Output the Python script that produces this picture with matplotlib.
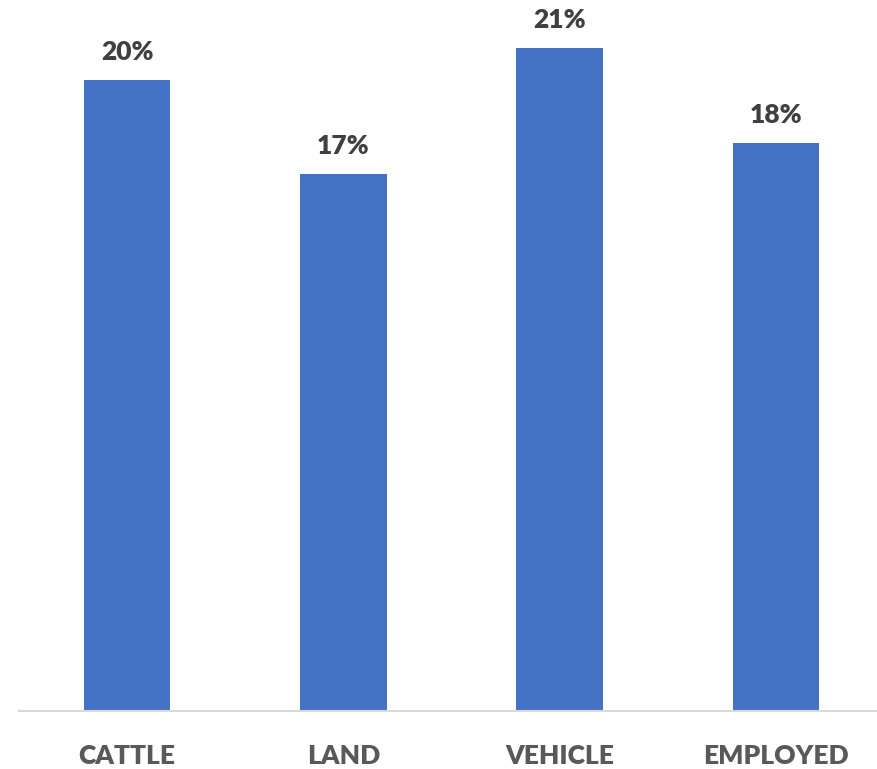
import matplotlib.pyplot as plt

categories = ["CATTLE", "LAND", "VEHICLE", "EMPLOYED"]
values = [20, 17, 21, 18]
labels = ["20%", "17%", "21%", "18%"]

plt.rcParams['font.family'] = ['Lato', 'DejaVu Sans']

fig = plt.figure(figsize=(8.77, 7.69), dpi=100)
ax = fig.add_axes([19 / 877, 58 / 769, 858 / 877, 711 / 769])

x = range(len(categories))
bars = ax.bar(x, values, width=0.4, color="#4472C4")

for b, lab in zip(bars, labels):
    ax.text(b.get_x() + b.get_width() / 2, b.get_height() + 0.5, lab,
            ha="center", va="bottom", fontsize=19, fontweight="heavy", color="#404040")

ax.set_xlim(-0.5, 3.467)
ax.set_ylim(0, 22.52)
ax.set_xticks(list(x))
ax.set_xticklabels(categories, fontsize=19, fontweight="heavy", color="#595959")
ax.tick_params(axis="x", length=0, pad=24)
ax.set_yticks([])
for s in ["top", "right", "left"]:
    ax.spines[s].set_visible(False)
ax.spines["bottom"].set_color("#D9D9D9")
ax.spines["bottom"].set_linewidth(1.5)

fig.savefig("out.png", dpi=100)
